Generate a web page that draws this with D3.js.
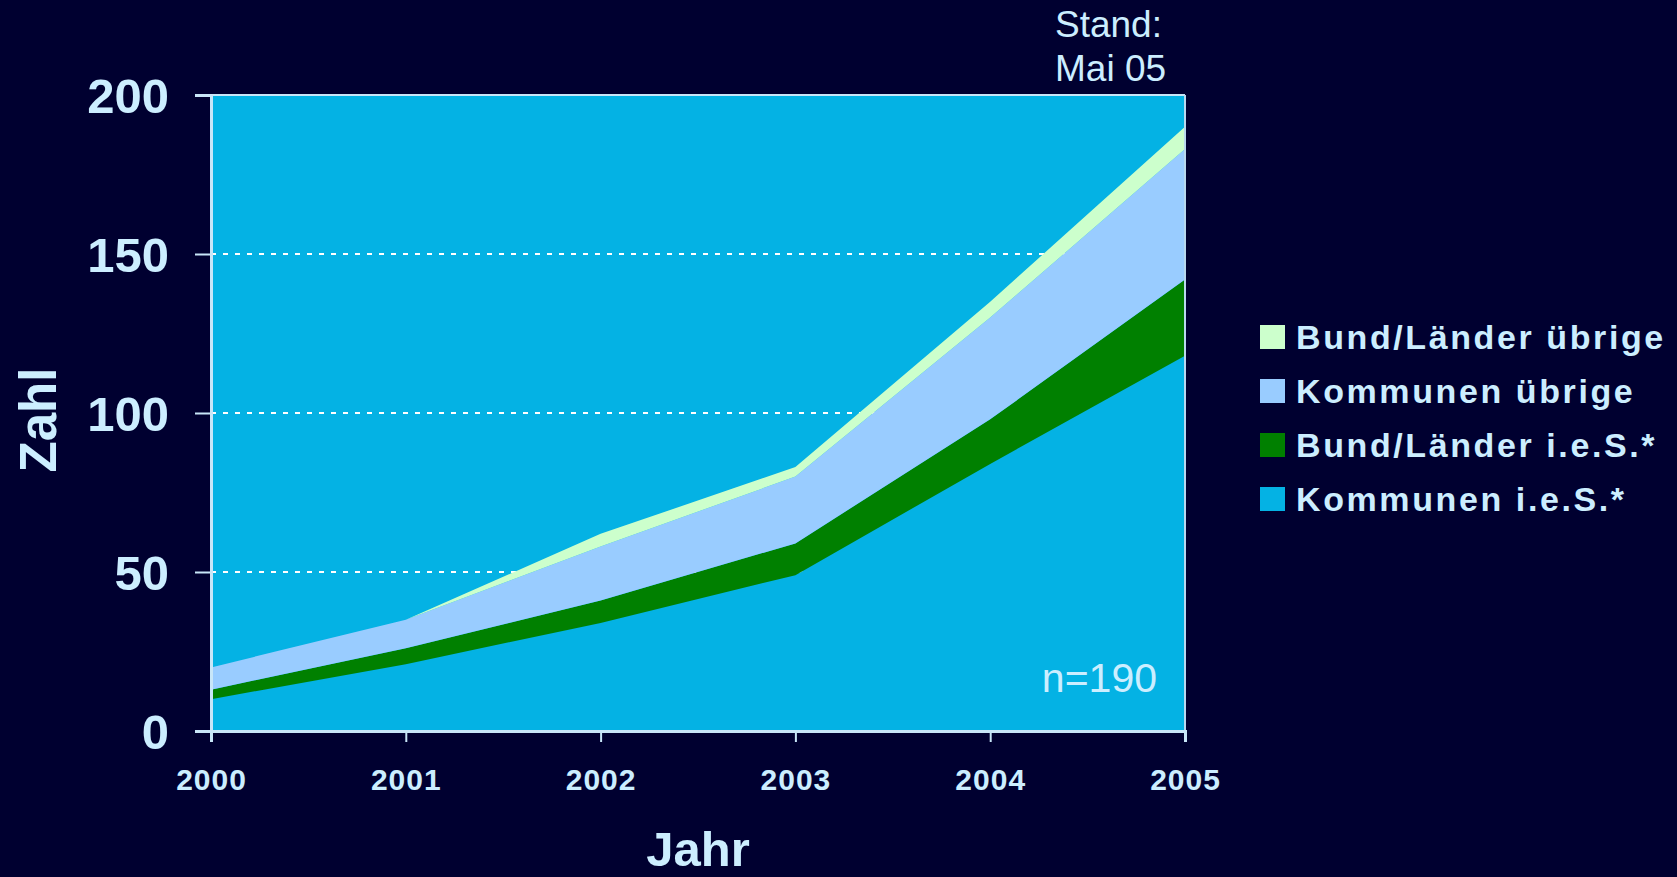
<!DOCTYPE html>
<html>
<head>
<meta charset="utf-8">
<script src="https://cdn.jsdelivr.net/npm/d3@7"></script>
<style>
    html, body { margin: 0; padding: 0; background: #000030; }
    svg { display: block; }
    text { font-family: "Liberation Sans", Arial, sans-serif; fill: #cceeff; }
</style>
</head>
<body>
<div id="chart"></div>
<script>

var width = 1677,
    height = 877;

// Data, stacked from bottom to top
var years = [2000, 2001, 2002, 2003, 2004, 2005];
var kommunenIeS     = [10, 21, 34, 49, 84, 118];
var bundLaenderIeS  = [3, 5, 7, 10, 14, 24];
var kommunenUebrige = [7, 9, 17, 21, 32, 41];
var bundLaenderUebrige = [0, 0, 4, 3, 5, 7];

var seriesKeys = ["kommunenIeS", "bundLaenderIeS", "kommunenUebrige", "bundLaenderUebrige"];
var seriesNames = ["Kommunen i.e.S.*", "Bund/Länder i.e.S.*", "Kommunen übrige", "Bund/Länder übrige"];
var seriesColors = ["#04b2e4", "#008000", "#99ccff", "#ccffcc"];
var yTicks = [0, 50, 100, 150, 200];

var rows = years.map(function(y, i) {
    return {
        year: y,
        kommunenIeS: kommunenIeS[i],
        bundLaenderIeS: bundLaenderIeS[i],
        kommunenUebrige: kommunenUebrige[i],
        bundLaenderUebrige: bundLaenderUebrige[i]
    };
});

var margin = {left: 211, right: 1677 - 1185, top: 95, bottom: 877 - 731};
var plotW = width - margin.left - margin.right,
    plotH = height - margin.top - margin.bottom;

var svg = d3.select("#chart").append("svg")
    .attr("width", width)
    .attr("height", height);

svg.append("rect")
    .attr("width", width)
    .attr("height", height)
    .attr("fill", "#000030");

var x = d3.scaleLinear().domain([2000, 2005]).range([0, plotW]);
var y = d3.scaleLinear().domain([0, 200]).range([plotH, 0]);

var g = svg.append("g")
    .attr("transform", "translate(" + margin.left + "," + margin.top + ")");

// plot background
g.append("rect")
    .attr("width", plotW)
    .attr("height", plotH)
    .attr("fill", "#04b2e4");

// dotted gridlines (behind the areas)
g.append("g")
    .selectAll("line")
    .data(yTicks.filter(function(d) { return d > 0; }))
    .enter().append("line")
        .attr("x1", 0)
        .attr("x2", plotW)
        .attr("y1", function(d) { return y(d); })
        .attr("y2", function(d) { return y(d); })
        .attr("stroke", "#ffffff")
        .attr("stroke-width", 2)
        .attr("stroke-dasharray", "5,7");

var stack = d3.stack().keys(seriesKeys);
var layers = stack(rows);

var area = d3.area()
    .x(function(d) { return x(d.data.year); })
    .y0(function(d) { return y(d[0]); })
    .y1(function(d) { return y(d[1]); });

g.append("g")
    .selectAll("path")
    .data(layers)
    .enter().append("path")
        .attr("d", area)
        .attr("fill", function(d, i) { return seriesColors[i]; });

// frame: top and right
g.append("line")
    .attr("x1", 0).attr("x2", plotW)
    .attr("y1", 0).attr("y2", 0)
    .attr("stroke", "#c8e6f8").attr("stroke-width", 2);
g.append("line")
    .attr("x1", plotW).attr("x2", plotW)
    .attr("y1", 0).attr("y2", plotH)
    .attr("stroke", "#b8d8ee").attr("stroke-width", 2);

// y axis
var yAxis = g.append("g")
    .call(d3.axisLeft(y).tickValues(yTicks).tickSize(16).tickPadding(26));
yAxis.select(".domain").attr("stroke", "#c8e6f8").attr("stroke-width", 3);
yAxis.selectAll(".tick line").attr("stroke", "#c8e6f8").attr("stroke-width", 2);
yAxis.selectAll(".tick text")
    .attr("fill", "#cceeff")
    .style("font-family", "'Liberation Sans', Arial, sans-serif")
    .style("font-weight", "bold")
    .style("font-size", "49px")
    .attr("dy", "0.36em");

// x axis
var xAxis = g.append("g")
    .attr("transform", "translate(0," + plotH + ")")
    .call(d3.axisBottom(x).tickValues(years).tickFormat(d3.format("d")).tickSize(11).tickPadding(27));
xAxis.select(".domain").attr("stroke", "#c8e6f8").attr("stroke-width", 3);
xAxis.selectAll(".tick line").attr("stroke", "#c8e6f8").attr("stroke-width", 2);
xAxis.selectAll(".tick text")
    .attr("fill", "#cceeff")
    .style("font-family", "'Liberation Sans', Arial, sans-serif")
    .style("font-weight", "bold")
    .style("font-size", "30px")
    .style("letter-spacing", "1px")
    .attr("dy", "0.71em");

// n label inside plot
g.append("text")
    .attr("x", plotW - 28)
    .attr("y", 597)
    .attr("text-anchor", "end")
    .style("font-size", "41px")
    .text("n=190");

// axis titles
svg.append("text")
    .attr("x", margin.left + plotW / 2)
    .attr("y", 866)
    .attr("text-anchor", "middle")
    .style("font-size", "49px")
    .style("font-weight", "bold")
    .text("Jahr");

svg.append("text")
    .attr("transform", "translate(38,420) rotate(-90)")
    .attr("text-anchor", "middle")
    .attr("dy", "0.36em")
    .style("font-size", "51px")
    .style("font-weight", "bold")
    .text("Zahl");

// Stand note
var note = svg.append("text")
    .attr("x", 1055)
    .style("font-size", "37px");
note.append("tspan").attr("x", 1055).attr("y", 37).text("Stand:");
note.append("tspan").attr("x", 1055).attr("y", 81).text("Mai 05");

// legend, top entry is the top layer
var legendOrder = [3, 2, 1, 0];
var legend = svg.append("g")
    .attr("transform", "translate(1260,325)");

var item = legend.selectAll("g")
    .data(legendOrder)
    .enter().append("g")
        .attr("transform", function(d, i) { return "translate(0," + (i * 54) + ")"; });

item.append("rect")
    .attr("width", 25)
    .attr("height", 24)
    .attr("fill", function(d) { return seriesColors[d]; });

item.append("text")
    .attr("x", 36)
    .attr("y", 24)
    .style("font-size", "34px")
    .style("font-weight", "bold")
    .style("letter-spacing", "2.6px")
    .text(function(d) { return seriesNames[d]; });

</script>
</body>
</html>
